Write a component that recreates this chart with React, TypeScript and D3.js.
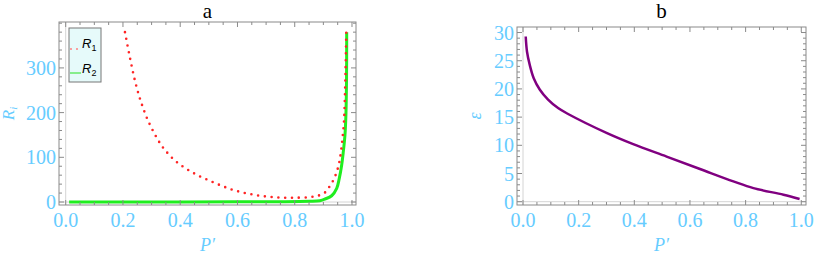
import * as d3 from "d3";

// panel a: R1 (dotted red) and R2 (green) against P'
const r1P = [0.207, 0.225, 0.244, 0.263, 0.287, 0.316, 0.341, 0.385, 0.446, 0.516, 0.585, 0.655, 0.725, 0.795, 0.865, 0.902, 0.921, 0.935, 0.947, 0.956, 0.963, 0.968, 0.972, 0.977, 0.980];
const r1V = [380, 321, 266, 224, 183, 146, 121, 91, 65, 44, 27, 16.5, 10.8, 9.6, 12, 19.5, 34, 49, 68, 90, 120, 150, 180, 280, 380];
const r2P = [0.012, 0.3, 0.6, 0.75, 0.85, 0.888, 0.906, 0.929, 0.9466, 0.9556, 0.964, 0.9696, 0.9755, 0.979, 0.981, 0.9815];
const r2V = [0, 0.1, 0.3, 0.6, 1.5, 2.9, 6.7, 14, 30.6, 53, 83, 112, 150, 200, 280, 380];

// panel b: epsilon against P'
const epsP = [0.0097, 0.0144, 0.024, 0.0385, 0.06, 0.09, 0.126, 0.162, 0.30, 0.396, 0.516, 0.636, 0.756, 0.828, 0.936, 0.994];
const epsV = [29.3, 26.6, 24.3, 21.9, 19.9, 18.1, 16.6, 15.55, 12.2, 10.2, 8.0, 5.8, 3.6, 2.4, 1.24, 0.48];

const xTicks = [0, 0.2, 0.4, 0.6, 0.8, 1.0];
const yTicksA = [0, 100, 200, 300];
const yTicksB = [0, 5, 10, 15, 20, 25, 30];

const SERIF = "Liberation Serif, Times New Roman, serif";
const SANS = "Liberation Sans, Arial, sans-serif";
const BLUE = "#66ccff";
const FRAME = "#8a8a8a";

type Frame = { left: number; right: number; top: number; bottom: number };

function Panel({ frame, xDomain, yDomain, yTicks, yMinorStep, yMax, title, yLabel, yLabelX, children }: {
  frame: Frame; xDomain: [number, number]; yDomain: [number, number]; yTicks: number[];
  yMinorStep: number; yMax: number; title: string; yLabel: React.ReactNode; yLabelX: number;
  children: (x: d3.ScaleLinear<number, number>, y: d3.ScaleLinear<number, number>) => React.ReactNode;
}) {
  const x = d3.scaleLinear().domain(xDomain).range([frame.left, frame.right]);
  const y = d3.scaleLinear().domain(yDomain).range([frame.bottom, frame.top]);
  const xMinor = d3.range(0, 1.0001, 0.05).filter(v => Math.abs(v * 5 - Math.round(v * 5)) > 1e-6);
  const yMinor = d3.range(0, yMax + 0.001, yMinorStep).filter(v => !yTicks.includes(v));
  const cx = (frame.left + frame.right) / 2;
  const cy = (frame.top + frame.bottom) / 2;
  return (
    <g style={{ fontFamily: SERIF }}>
      {/* axes through zero */}
      <line x1={x(0)} x2={x(0)} y1={frame.top} y2={frame.bottom} stroke="#d4d4d4" />
      <line x1={frame.left} x2={frame.right} y1={y(0)} y2={y(0)} stroke="#d4d4d4" />
      <clipPath id={`clip-${title}`}>
        <rect x={frame.left} y={frame.top} width={frame.right - frame.left} height={frame.bottom - frame.top} />
      </clipPath>
      <g clipPath={`url(#clip-${title})`}>{children(x, y)}</g>
      <rect x={frame.left} y={frame.top} width={frame.right - frame.left} height={frame.bottom - frame.top}
        fill="none" stroke={FRAME} strokeWidth={1} />
      {xTicks.map(v => (
        <g key={"xt" + v}>
          <line x1={x(v)} x2={x(v)} y1={frame.bottom} y2={frame.bottom - 5} stroke={FRAME} />
          <line x1={x(v)} x2={x(v)} y1={frame.top} y2={frame.top + 5} stroke={FRAME} />
          <text x={x(v)} y={227} textAnchor="middle" fill={BLUE} style={{ fontFamily: SERIF }} fontSize={20}>{v.toFixed(1)}</text>
        </g>
      ))}
      {xMinor.map(v => (
        <g key={"xm" + v}>
          <line x1={x(v)} x2={x(v)} y1={frame.bottom} y2={frame.bottom - 3} stroke={FRAME} />
          <line x1={x(v)} x2={x(v)} y1={frame.top} y2={frame.top + 3} stroke={FRAME} />
        </g>
      ))}
      {yTicks.map(v => (
        <g key={"yt" + v}>
          <line x1={frame.left} x2={frame.left + 5} y1={y(v)} y2={y(v)} stroke={FRAME} />
          <line x1={frame.right} x2={frame.right - 5} y1={y(v)} y2={y(v)} stroke={FRAME} />
          <text x={frame.left - 3} y={y(v)} dy="0.35em" textAnchor="end" fill={BLUE} style={{ fontFamily: SERIF }} fontSize={20}>{v}</text>
        </g>
      ))}
      {yMinor.map(v => (
        <g key={"ym" + v}>
          <line x1={frame.left} x2={frame.left + 3} y1={y(v)} y2={y(v)} stroke={FRAME} />
          <line x1={frame.right} x2={frame.right - 3} y1={y(v)} y2={y(v)} stroke={FRAME} />
        </g>
      ))}
      <text x={cx} y={18} textAnchor="middle" style={{ fontFamily: SERIF }} fontSize={21} fill="#000">{title}</text>
      <text x={cx} y={251} textAnchor="middle" style={{ fontFamily: SERIF }} fontSize={18} fontStyle="italic" fill={BLUE}>P′</text>
      <text transform={`translate(${yLabelX},${cy}) rotate(-90)`} textAnchor="middle"
        style={{ fontFamily: SERIF }} fontSize={17} fontStyle="italic" fill={BLUE}>{yLabel}</text>
    </g>
  );
}

const curve = d3.curveCatmullRom.alpha(0.5);

export default function App() {
  const frameA = { left: 59, right: 356, top: 22, bottom: 205 };
  const frameB = { left: 517, right: 806, top: 27, bottom: 205 };
  return (
    <svg width={814} height={259} style={{ position: "absolute", left: 0, top: 0, background: "#fff" }}>
      <Panel frame={frameA} xDomain={[-0.0234, 1.014]} yDomain={[-6.7, 402.7]} yTicks={yTicksA} yMinorStep={20} yMax={400}
        title="a" yLabelX={14} yLabel={<>R<tspan fontSize={11} dy={3}>i</tspan></>}>
        {(x, y) => {
          const red = d3.line<number>().curve(curve).x((_, i) => x(r1P[i])).y(v => y(v))(r1V) ?? "";
          const green = d3.line<number>().curve(curve).x((_, i) => x(r2P[i])).y(v => y(v))(r2V) ?? "";
          return (
            <>
              <path d={green} fill="none" stroke="#1fee1f" strokeWidth={3} />
              <path d={red} fill="none" stroke="#ff2424" strokeWidth={2.6} strokeDasharray="0 6.8" strokeLinecap="round" />
            </>
          );
        }}
      </Panel>
      {/* legend */}
      <g>
        <rect x={69} y={28} width={32} height={54} fill="#e6fafa" stroke="#777" strokeWidth={1} />
        <line x1={71} x2={78} y1={49} y2={49} stroke="#ff8080" strokeWidth={2} strokeDasharray="0 6" strokeLinecap="round" />
        <line x1={70} x2={81} y1={73} y2={73} stroke="#5ee85e" strokeWidth={1.4} />
        <text x={82} y={48} style={{ fontFamily: SANS }} fontSize={13} fontStyle="italic" fill="#000">R<tspan fontSize={9} fontStyle="normal" dy={3}>1</tspan></text>
        <text x={82} y={73} style={{ fontFamily: SANS }} fontSize={13} fontStyle="italic" fill="#000">R<tspan fontSize={9} fontStyle="normal" dy={3}>2</tspan></text>
      </g>
      <Panel frame={frameB} xDomain={[-0.0216, 1.017]} yDomain={[-0.585, 30.98]} yTicks={yTicksB} yMinorStep={1} yMax={30}
        title="b" yLabelX={481} yLabel={<tspan fontSize={18}>ε</tspan>}>
        {(x, y) => {
          const purple = d3.line<number>().curve(curve).x((_, i) => x(epsP[i])).y(v => y(v))(epsV) ?? "";
          return <path d={purple} fill="none" stroke="#800080" strokeWidth={2.5} />;
        }}
      </Panel>
    </svg>
  );
}
